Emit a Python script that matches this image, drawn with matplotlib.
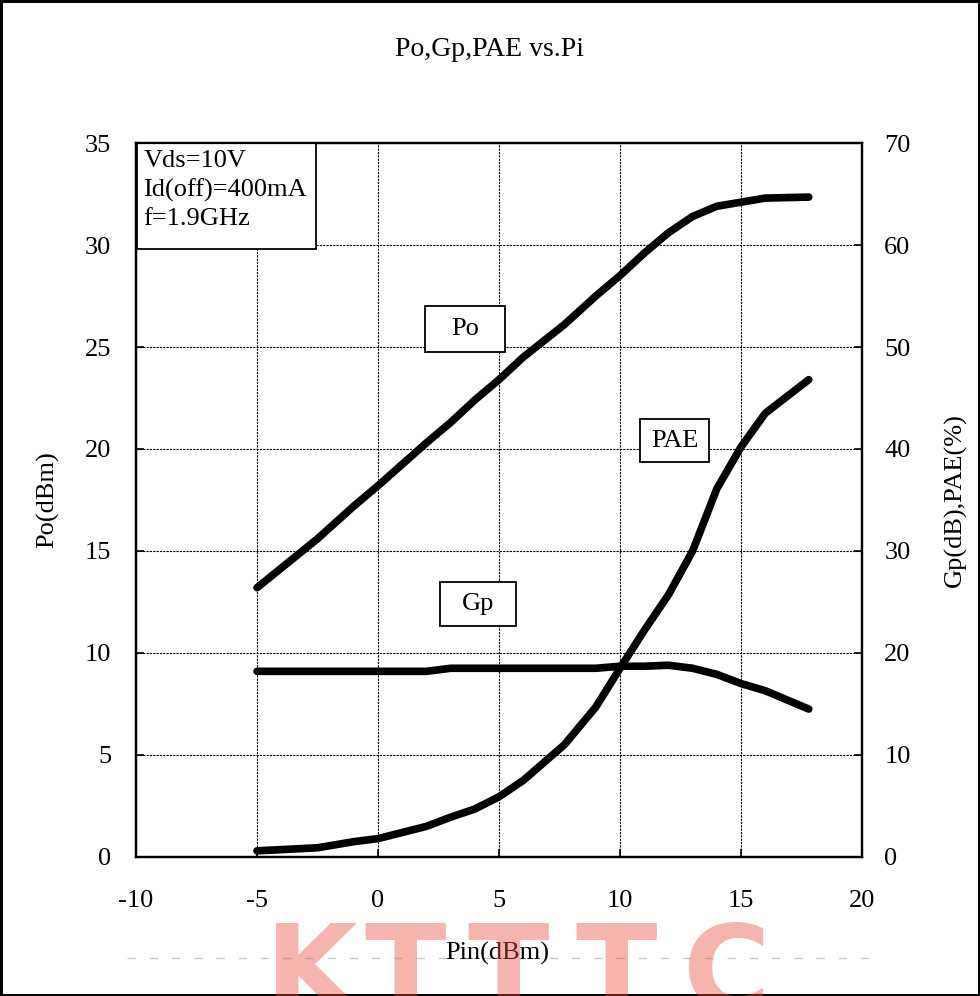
import matplotlib
matplotlib.use("Agg")
import matplotlib.pyplot as plt
from matplotlib.patches import Rectangle
from matplotlib.lines import Line2D

# Pin (dBm) at measured points
pin = [-5, -2.5, -1, 0, 2, 3, 4, 5, 6, 7.7, 9, 10, 11, 12, 13, 14, 15, 16, 17.8]
po = [13.2, 15.6, 17.2, 18.2, 20.3, 21.3, 22.4, 23.4, 24.5, 26.1, 27.5, 28.5,
      29.6, 30.6, 31.4, 31.9, 32.1, 32.3, 32.35]
gp = [18.2, 18.2, 18.2, 18.2, 18.2, 18.5, 18.5, 18.5, 18.5, 18.5, 18.5, 18.7,
      18.7, 18.8, 18.5, 17.9, 17.0, 16.3, 14.5]
pae = [0.6, 0.9, 1.5, 1.8, 3.0, 3.9, 4.7, 5.9, 7.5, 11.0, 14.7, 18.5, 22.2,
       25.7, 30.0, 36.1, 40.2, 43.5, 46.8]

x_ticks = [-10, -5, 0, 5, 10, 15, 20]
left_ticks = [0, 5, 10, 15, 20, 25, 30, 35]
right_ticks = [0, 10, 20, 30, 40, 50, 60, 70]

conditions = "Vds=10V\nId(off)=400mA\nf=1.9GHz"

plt.rcParams['font.family'] = ['Liberation Serif', 'DejaVu Serif']
plt.rcParams['font.size'] = 19
plt.rcParams['axes.unicode_minus'] = False

fig = plt.figure(figsize=(9.8, 9.96), dpi=100, linewidth=2.5, edgecolor='black')
ax = fig.add_axes([0.1388, 0.1396, 0.7408, 0.7168])
ax2 = ax.twinx()

ax.set_xlim(-10, 20)
ax.set_ylim(0, 35)
ax2.set_ylim(0, 70)
ax.set_xticks(x_ticks)
ax.set_yticks(left_ticks)
ax2.set_yticks(right_ticks)

ax.grid(True, color='black', linestyle=(0, (2, 1)), linewidth=0.8)
ax.tick_params(direction='in', length=6, width=1.2)
ax.tick_params(axis='x', pad=24)
ax.tick_params(axis='y', pad=18)
ax2.tick_params(direction='in', length=6, width=1.2, pad=16)
for a in (ax, ax2):
    for s in a.spines.values():
        s.set_linewidth(1.6)

lw = 5.5
ax.plot(pin, po, color='black', linewidth=lw, solid_capstyle='round', solid_joinstyle='round', zorder=3)
ax2.plot(pin, gp, color='black', linewidth=lw, solid_capstyle='round', solid_joinstyle='round', zorder=3)
ax2.plot(pin, pae, color='black', linewidth=lw, solid_capstyle='round', solid_joinstyle='round', zorder=3)

ax.set_ylabel("Po(dBm)", fontsize=19, labelpad=18)
ax2.set_ylabel("Gp(dB),PAE(%)", fontsize=19, labelpad=24)
fig.text(0.507, 0.043, "Pin(dBm)", ha='center', va='center', fontsize=19)
fig.text(0.5, 0.95, "Po,Gp,PAE vs.Pi", ha='center', va='center', fontsize=20)

# conditions box
ax.add_patch(Rectangle((-9.95, 29.8), 7.4, 5.2, transform=ax.transData,
                       facecolor='white', edgecolor='black', linewidth=1.3, zorder=4))
ax.text(-9.7, 34.65, conditions, ha='left', va='top', fontsize=19, linespacing=1.35, zorder=5)

# curve labels
labels = [("Po", 3.6, 25.9, 3.3, 2.25), ("PAE", 12.26, 20.4, 2.85, 2.1), ("Gp", 4.13, 12.4, 3.15, 2.15)]
for name, cx, cy, w, h in labels:
    ax.add_patch(Rectangle((cx - w / 2, cy - h / 2), w, h, facecolor='white',
                           edgecolor='black', linewidth=1.3, zorder=4))
    ax.text(cx, cy, name, ha='center', va='center', fontsize=19, zorder=5)

# watermark
fig.add_artist(Line2D([0.13, 0.9], [0.038, 0.038], color='#c8c8c8', linewidth=1,
                      linestyle=(0, (6, 10))))
for ch, xp in zip("KTTTC", [0.318, 0.413, 0.518, 0.629, 0.742]):
    fig.text(xp, -0.014, ch, ha='center', va='baseline', fontsize=86, fontweight='bold',
             family='DejaVu Sans', color='#e8503f', alpha=0.42)

fig.savefig("out.png", dpi=100)
